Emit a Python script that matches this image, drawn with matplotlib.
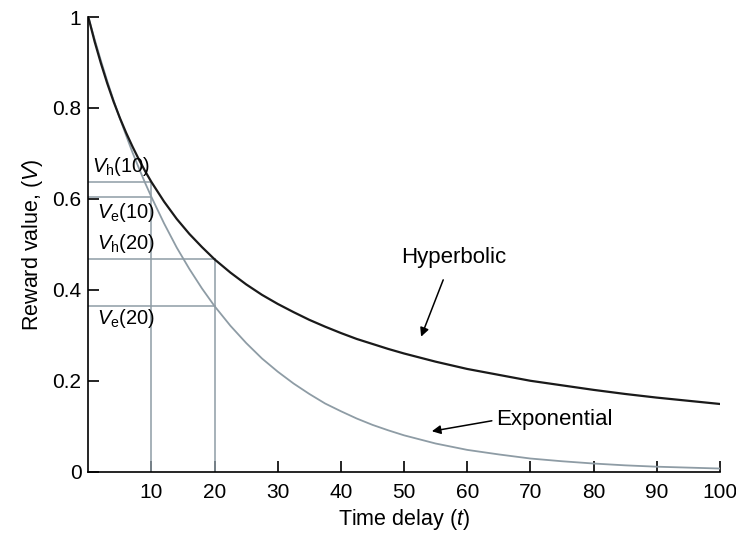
import numpy as np
import matplotlib.pyplot as plt

plt.rcParams['font.family'] = ['Liberation Sans', 'DejaVu Sans']
plt.rcParams['mathtext.fontset'] = 'custom'
plt.rcParams['mathtext.rm'] = 'Liberation Sans'
plt.rcParams['mathtext.it'] = 'Liberation Sans:italic'

# values
t = [0, 1, 2, 3, 4, 5, 6, 7, 8, 9, 10, 12, 14, 16, 18, 20, 22.5, 25,
     27.5, 30, 32.5, 35, 37.5, 40, 42.5, 45, 47.5, 50, 55, 60, 65, 70,
     75, 80, 85, 90, 95, 100]
v_hyp = [1.000, 0.946, 0.898, 0.854, 0.814, 0.778, 0.745, 0.715, 0.687,
         0.661, 0.637, 0.594, 0.556, 0.523, 0.494, 0.467, 0.438, 0.412,
         0.389, 0.369, 0.351, 0.334, 0.319, 0.305, 0.292, 0.281, 0.270,
         0.260, 0.242, 0.226, 0.213, 0.200, 0.190, 0.180, 0.171, 0.163,
         0.156, 0.149]
v_exp = [1.000, 0.951, 0.904, 0.859, 0.817, 0.777, 0.739, 0.702, 0.668,
         0.635, 0.604, 0.546, 0.493, 0.446, 0.403, 0.364, 0.321, 0.283,
         0.249, 0.220, 0.194, 0.171, 0.150, 0.133, 0.117, 0.103, 0.091,
         0.080, 0.062, 0.048, 0.038, 0.029, 0.023, 0.018, 0.014, 0.011,
         0.009, 0.007]

# marked delays and their values
marks_t = [10, 20]
marks_vh = [0.637, 0.467]
marks_ve = [0.604, 0.364]

xticks = [10, 20, 30, 40, 50, 60, 70, 80, 90, 100]
yticks = [0, 0.2, 0.4, 0.6, 0.8, 1]
ytick_labels = ['0', '0.2', '0.4', '0.6', '0.8', '1']

gray = '#8e9ca5'

fig = plt.figure(figsize=(7.36, 5.33), dpi=100)
ax = fig.add_axes([0.12, 0.115, 0.858, 0.853])

# guide lines
for tm, vh, ve in zip(marks_t, marks_vh, marks_ve):
    ax.plot([0, tm], [vh, vh], color=gray, lw=1.1)
    ax.plot([0, tm], [ve, ve], color=gray, lw=1.1)
    ax.plot([tm, tm], [0, vh], color=gray, lw=1.1)

ax.plot(t, v_exp, color=gray, lw=1.3)
ax.plot(t, v_hyp, color='#1a1a1a', lw=1.6)

fs = 14.5
ax.text(0.6, 0.645, r'$V_\mathrm{h}$(10)', fontsize=fs, va='bottom')
ax.text(1.3, 0.571, r'$V_\mathrm{e}$(10)', fontsize=fs, va='center')
ax.text(1.3, 0.503, r'$V_\mathrm{h}$(20)', fontsize=fs, va='center')
ax.text(1.3, 0.338, r'$V_\mathrm{e}$(20)', fontsize=fs, va='center')

arrow = dict(arrowstyle='-|>', color='black', lw=1.1, shrinkA=0,
             shrinkB=0, mutation_scale=13)
ax.text(57.8, 0.472, 'Hyperbolic', fontsize=16, ha='center', va='center')
ax.annotate('', xy=(52.7, 0.297), xytext=(56.2, 0.422), arrowprops=arrow)
ax.text(64.6, 0.114, 'Exponential', fontsize=16, ha='left', va='center')
ax.annotate('', xy=(54.4, 0.089), xytext=(63.9, 0.112), arrowprops=arrow)

ax.set_xlim(0, 100)
ax.set_ylim(0, 1)
ax.set_xticks(xticks)
ax.set_yticks(yticks)
ax.set_yticklabels(ytick_labels)
ax.tick_params(direction='in', length=8, width=1.2, labelsize=15, pad=5)
ax.tick_params(axis='x', pad=8)
for s in ['top', 'right']:
    ax.spines[s].set_visible(False)
for s in ['left', 'bottom']:
    ax.spines[s].set_linewidth(1.2)

ax.set_xlabel(r'Time delay ($t$)', fontsize=15.5, labelpad=4)
ax.set_ylabel(r'Reward value, ($V$)', fontsize=15.5, labelpad=5)

fig.savefig('out.png', dpi=100)
